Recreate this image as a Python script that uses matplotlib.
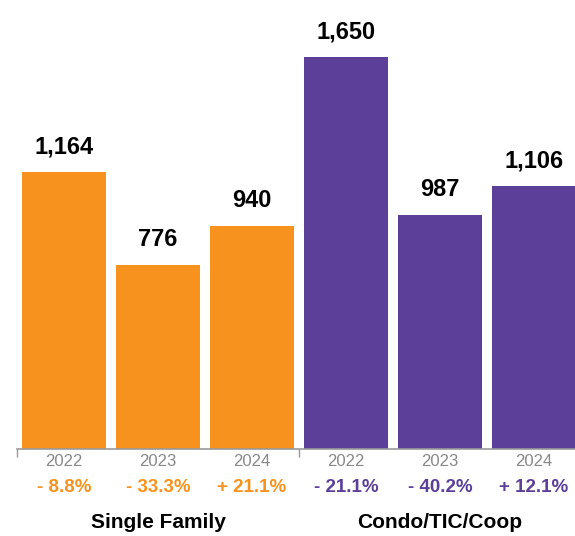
import matplotlib.pyplot as plt

plt.rcParams['font.family'] = ['Liberation Sans', 'DejaVu Sans']

anos = ['2022', '2023', '2024']
grupos = ['Single Family', 'Condo/TIC/Coop']
single_family = [1164, 776, 940]
condo = [1650, 987, 1106]
var_single = ['- 8.8%', '- 33.3%', '+ 21.1%']
var_condo = ['- 21.1%', '- 40.2%', '+ 12.1%']

laranja = '#F7921E'
roxo = '#5B3F99'

fig = plt.figure(figsize=(5.75, 5.36), dpi=100)
ax = fig.add_axes([17 / 575, 87 / 536, 564 / 575, 0.82])

valores = single_family + condo
cores = [laranja] * 3 + [roxo] * 3
variacoes = var_single + var_condo
xs = list(range(6))

ax.bar(xs, valores, width=0.9, color=cores)
ax.set_xlim(-0.5, 5.5)
ax.set_ylim(0, 1850)

for x, v in zip(xs, valores):
    ax.annotate(f'{v:,}', xy=(x, v), xytext=(0, 25), textcoords='offset pixels',
                ha='center', va='center', fontsize=17, fontweight='bold')

for x, ano, var, cor in zip(xs, anos * 2, variacoes, cores):
    ax.annotate(ano, xy=(x, 0), xycoords=('data', 'axes fraction'),
                xytext=(0, -13), textcoords='offset pixels',
                ha='center', va='center', fontsize=12, color='#888888')
    ax.annotate(var, xy=(x, 0), xycoords=('data', 'axes fraction'),
                xytext=(0, -39), textcoords='offset pixels',
                ha='center', va='center', fontsize=13.5, fontweight='bold', color=cor)

for x, g in zip([1, 4], grupos):
    ax.annotate(g, xy=(x, 0), xycoords=('data', 'axes fraction'),
                xytext=(0, -73), textcoords='offset pixels',
                ha='center', va='center', fontsize=15, fontweight='bold')

for lado in ['top', 'right', 'left']:
    ax.spines[lado].set_visible(False)
ax.spines['bottom'].set_color('#999999')
ax.spines['bottom'].set_linewidth(1.2)
ax.set_yticks([])
ax.set_xticks([-0.5, 2.5, 5.5])
ax.set_xticklabels([])
ax.tick_params(axis='x', length=6, width=1.0, color='#999999')

fig.savefig('out.png', dpi=100)
